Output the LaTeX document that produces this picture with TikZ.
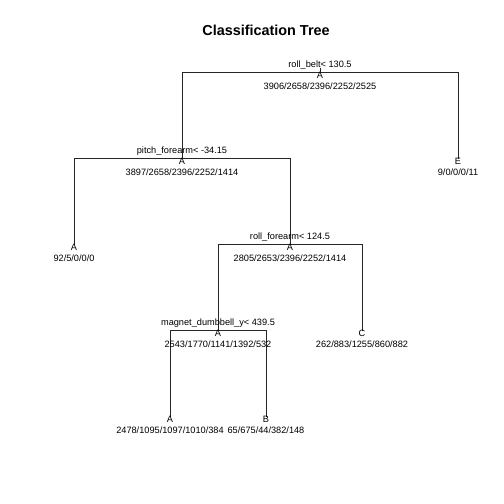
\documentclass[tikz,border=0pt]{standalone}
\usepackage{fontspec}
\setmainfont{Liberation Sans}
\begin{document}
\begin{tikzpicture}[x=1pt,y=-1pt,
  lbl/.style={inner sep=0pt,anchor=base,font=\fontsize{9.2}{10}\selectfont},
  edge/.style={draw=black!85,line width=0.8pt},
  titletext/.style={inner sep=0pt,anchor=base,font=\fontsize{14.4}{16}\selectfont\bfseries}]
\useasboundingbox (0,0) rectangle (504,504);
\fill[white] (0,0) rectangle (504,504);

% title
\node[titletext] (title) at (266,35.2) {Classification Tree};

% node points of the tree (split bars / leaf ends)
\coordinate (n1) at (320,72.5);
\coordinate (n2) at (182,158.5);
\coordinate (n3) at (458,158.5);
\coordinate (n4) at (74,244.5);
\coordinate (n5) at (290,244.5);
\coordinate (n10) at (218,330.5);
\coordinate (n11) at (362,330.5);
\coordinate (n20) at (170,416.5);
\coordinate (n21) at (266,416.5);
\coordinate (r0) at (320,68);

% branches
\draw[edge] (r0) -- (n1);
\draw[edge] (n1) -| (n2);
\draw[edge] (n1) -| (n3);
\draw[edge] (n2) -| (n4);
\draw[edge] (n2) -| (n5);
\draw[edge] (n5) -| (n10);
\draw[edge] (n5) -| (n11);
\draw[edge] (n10) -| (n20);
\draw[edge] (n10) -| (n21);

% split rules
\node[lbl] (s1) at ([yshift=4.7]n1) {roll\_belt< 130.5};
\node[lbl] (s2) at ([yshift=4.7]n2) {pitch\_forearm< -34.15};
\node[lbl] (s5) at ([yshift=4.7]n5) {roll\_forearm< 124.5};
\node[lbl] (s10) at ([yshift=4.7]n10) {magnet\_dumbbell\_y< 439.5};

% fitted classes
\node[lbl] (c1) at ([yshift=-6]n1) {A};
\node[lbl] (c2) at ([yshift=-6]n2) {A};
\node[lbl] (c3) at ([yshift=-6]n3) {E};
\node[lbl] (c4) at ([yshift=-6]n4) {A};
\node[lbl] (c5) at ([yshift=-6]n5) {A};
\node[lbl] (c10) at ([yshift=-6]n10) {A};
\node[lbl] (c11) at ([yshift=-6]n11) {C};
\node[lbl] (c20) at ([yshift=-6]n20) {A};
\node[lbl] (c21) at ([yshift=-6]n21) {B};

% class counts
\node[lbl] (k1) at ([yshift=-16.8]n1) {3906/2658/2396/2252/2525};
\node[lbl] (k2) at ([yshift=-16.8]n2) {3897/2658/2396/2252/1414};
\node[lbl] (k3) at ([yshift=-16.8]n3) {9/0/0/0/11};
\node[lbl] (k4) at ([yshift=-16.8]n4) {92/5/0/0/0};
\node[lbl] (k5) at ([yshift=-16.8]n5) {2805/2653/2396/2252/1414};
\node[lbl] (k10) at ([yshift=-16.8]n10) {2543/1770/1141/1392/532};
\node[lbl] (k11) at ([yshift=-16.8]n11) {262/883/1255/860/882};
\node[lbl] (k20) at ([yshift=-16.8]n20) {2478/1095/1097/1010/384};
\node[lbl] (k21) at ([yshift=-16.8]n21) {65/675/44/382/148};
\end{tikzpicture}
\end{document}
